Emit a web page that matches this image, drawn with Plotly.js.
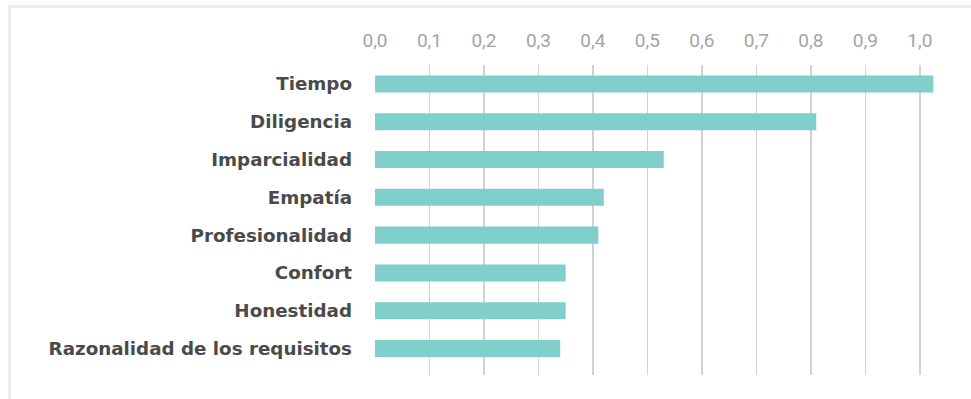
<!DOCTYPE html>
<html>
<head>
<meta charset="utf-8">
<script src="https://cdn.plot.ly/plotly-3.0.1.min.js"></script>
<style>
  html, body { margin: 0; padding: 0; background: #ffffff; }
  #wrap { position: relative; width: 971px; height: 399px; overflow: hidden; }
  #chart { width: 971px; height: 399px; }
  #frame {
    position: absolute; left: 8px; top: 5px; width: 980px; height: 420px;
    border-top: 3px solid #ececec; border-left: 3px solid #ececec;
    pointer-events: none;
  }
</style>
</head>
<body>
<div id="wrap">
  <div id="chart"></div>
  <div id="frame"></div>
</div>
<script>
// Attributes, top to bottom
const categories = [
  "Tiempo",
  "Diligencia",
  "Imparcialidad",
  "Empatía",
  "Profesionalidad",
  "Confort",
  "Honestidad",
  "Razonalidad de los requisitos"
];

// Score for each attribute
const scores = [1.025, 0.81, 0.53, 0.42, 0.41, 0.35, 0.35, 0.34];

// Axis ticks
const tickValues = [0, 0.1, 0.2, 0.3, 0.4, 0.5, 0.6, 0.7, 0.8, 0.9, 1.0];

const trace = {
  type: "bar",
  orientation: "h",
  x: scores,
  y: categories,
  marker: { color: "#80cfcb" },
  hoverinfo: "x+y"
};

const layout = {
  width: 971,
  height: 399,
  margin: { l: 375, r: 24, t: 65, b: 24 },
  paper_bgcolor: "#ffffff",
  plot_bgcolor: "#ffffff",
  separators: ",.",
  showlegend: false,
  bargap: 0.55,
  xaxis: {
    side: "top",
    range: [0, 1.05],
    tickvals: tickValues,
    tickformat: ".1f",
    showgrid: true,
    gridcolor: "#d2d2d2",
    gridwidth: 1.5,
    zeroline: false,
    showline: false,
    ticks: "",
    ticklabelstandoff: 13,
    tickfont: { family: "Roboto, sans-serif", size: 19, color: "#a4a4a4" }
  },
  yaxis: {
    type: "category",
    range: [7.7, -0.5],
    showgrid: false,
    zeroline: false,
    showline: false,
    ticks: "",
    ticklabelstandoff: 22,
    tickfont: { family: "'DejaVu Sans', sans-serif", size: 18.3, color: "#4a4a4a", weight: "bold" }
  }
};

Plotly.newPlot("chart", [trace], layout, { displayModeBar: false, staticPlot: true });
</script>
</body>
</html>
